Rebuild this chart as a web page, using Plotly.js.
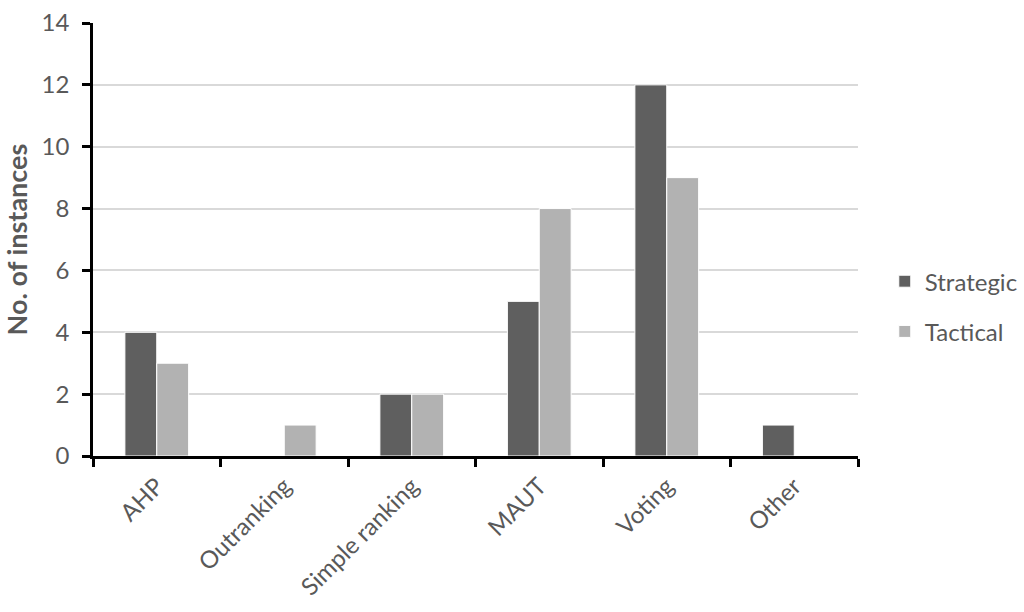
<!DOCTYPE html>
<html><head><meta charset="utf-8">
<script src="https://cdn.plot.ly/plotly-3.0.1.min.js"></script>
<style>body{margin:0;background:#fff}#c{width:1024px;height:612px}</style>
</head><body><div id="c"></div>
<script>
const categories = ["AHP", "Outranking", "Simple ranking", "MAUT", "Voting", "Other"];
const strategic = [4, 0, 2, 5, 12, 1];
const tactical = [3, 1, 2, 8, 9, 0];
const seriesNames = ["Strategic", "Tactical"];
const yTicks = [0, 2, 4, 6, 8, 10, 12, 14];

const FONT = "Lato, 'Open Sans', sans-serif";
const traces = [
  {type: 'bar', name: seriesNames[0], x: categories, y: strategic, legendgroup: 'a',
   marker: {color: '#5f5f5f', line: {color: '#ffffff', width: 1}}},
  {type: 'bar', name: seriesNames[1], x: categories, y: tactical, legendgroup: 'b',
   marker: {color: '#b2b2b2', line: {color: '#ffffff', width: 1}}}
];
const layout = {
  width: 1024, height: 612,
  margin: {l: 93, r: 166, t: 23, b: 156, autoexpand: false},
  paper_bgcolor: '#fff', plot_bgcolor: '#fff',
  font: {family: FONT, color: '#595959', size: 24},
  barmode: 'group', bargap: 0.5, bargroupgap: 0,
  showlegend: true,
  legend: {x: 1.035, y: 0.345, yanchor: 'middle', xanchor: 'left', tracegroupgap: 16,
           font: {size: 24, color: '#595959'}, itemwidth: 30},
  xaxis: {
    tickangle: -45, showline: true, linecolor: '#000', linewidth: 2.5,
    ticks: 'outside', tickson: 'boundaries', ticklen: 8, tickwidth: 2.5, tickcolor: '#000',
    ticklabelstandoff: 4,
    showgrid: false, tickfont: {size: 24, color: '#595959'}
  },
  yaxis: {
    range: [0, 14], tickvals: yTicks, showline: true, linecolor: '#000', linewidth: 2.5,
    ticks: 'outside', ticklen: 8, tickwidth: 2.5, tickcolor: '#000', ticklabelstandoff: 8,
    gridcolor: '#d9d9d9', gridwidth: 2, zeroline: false,
    tickfont: {size: 24, color: '#595959'},
    title: {text: '<b>No. of instances</b>', font: {size: 27, color: '#595959'}, standoff: 8}
  }
};
Plotly.newPlot('c', traces, layout, {displayModeBar: false});
</script></body></html>
